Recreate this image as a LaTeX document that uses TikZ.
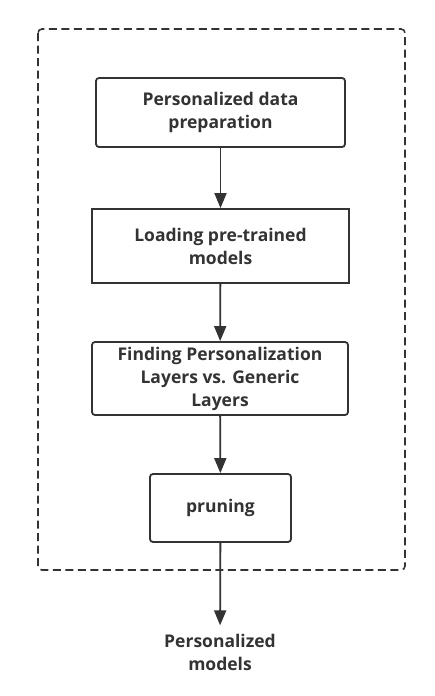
\documentclass[tikz,border=0pt]{standalone}
\usepackage{fontspec}
\setmainfont{Open Sans}
\usetikzlibrary{arrows.meta}
\definecolor{ink}{HTML}{333333}

\begin{document}
\begin{tikzpicture}[x=1pt,y=-1pt,
    stepbox/.style={draw=ink,line width=1.8pt,rounded corners=3pt,align=center,
      font=\bfseries\fontsize{17.5}{23}\selectfont,text=ink,inner sep=0pt},
    flow/.style={draw=ink,line width=1.8pt,-{Triangle[length=15pt,width=12pt]}}]
  \useasboundingbox (0,0) rectangle (435,696);
  \draw[ink,line width=1.6pt,dash pattern=on 8pt off 4.5pt,rounded corners=4pt] (38,29) rectangle (405,570);
  \node[stepbox,minimum width=249pt,minimum height=69pt] (prep) at (220.5,112.5) {Personalized data\\preparation};
  \node[stepbox,rounded corners=0pt,minimum width=257pt,minimum height=74pt] (load) at (220.5,246) {Loading pre-trained\\models};
  \node[stepbox,minimum width=256pt,minimum height=73pt] (find) at (220,378.5) {Finding Personalization\\Layers vs. Generic\\Layers};
  \node[stepbox,minimum width=141pt,minimum height=68pt] (prune) at (220.5,508) {pruning};
  \node[stepbox,draw=none,inner sep=8pt] (out) at (220,652.5) {Personalized\\models};
  \draw[flow] (prep) -- (load);
  \draw[flow] (load) -- (find);
  \draw[flow] (find) -- (prune);
  \draw[flow] (prune) -- (out);
\end{tikzpicture}
\end{document}
